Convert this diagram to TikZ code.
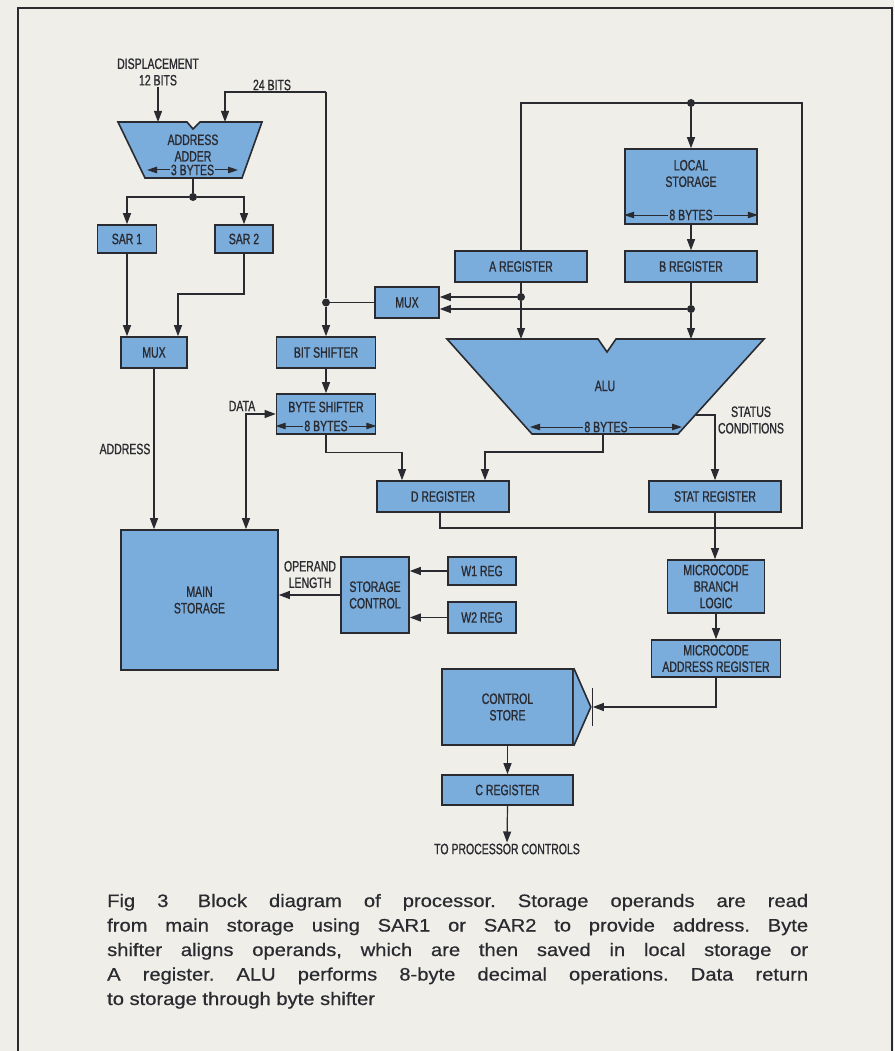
\documentclass[tikz,border=0pt]{standalone}
\usepackage{fontspec}
\setmainfont{Liberation Sans}
\newfontfamily\condfont[FakeStretch=0.7,FakeBold=1]{Liberation Sans}
\newfontfamily\capfont[FakeStretch=1.12,FakeBold=0.6]{Liberation Sans}
\usetikzlibrary{arrows.meta}

\definecolor{paper}{RGB}{240,238,232}
\definecolor{boxblue}{RGB}{122,172,220}
\definecolor{inkgrey}{RGB}{42,43,48}
\newcommand{\lblfont}{\condfont\fontsize{15}{16.5}\selectfont}
\newcommand{\capline}[1]{\makebox[701pt][s]{#1}}

\tikzset{
  blk/.style={draw=inkgrey, line width=1.6pt, fill=boxblue, text=inkgrey,
    font=\lblfont, align=center, inner sep=0pt},
  wire/.style={draw=inkgrey, line width=1.2pt},
  flow/.style={wire, -{Triangle[length=11pt,width=8pt]}},
  flowboth/.style={wire, {Triangle[length=11pt,width=8pt]}-{Triangle[length=11pt,width=8pt]}},
  span/.style={draw=inkgrey, line width=1pt,
    {Triangle[length=10pt,width=6.5pt]}-{Triangle[length=10pt,width=6.5pt]}},
  junc/.style={circle, fill=inkgrey, inner sep=0pt, minimum size=8pt},
  txt/.style={font=\lblfont, text=inkgrey, align=center, inner sep=1pt},
}

\begin{document}
\frenchspacing
\begin{tikzpicture}[x=1pt,y=-1pt,line join=miter]
    \useasboundingbox (0,0) rectangle (894,1051);
    \fill[paper] (0,0) rectangle (894,1051);
    \draw[inkgrey,line width=2.5pt] (18,1051) -- (18,8) -- (892,8) -- (892,1051);

    % address path
    \draw[fill=boxblue,draw=inkgrey,line width=1.6pt]
        (118,122) -- (187,122) -- (193,129) -- (200,122) -- (262,122)
        -- (242,178) -- (145,178) -- cycle;
    \coordinate (addin1) at (158,122);
    \coordinate (addin2) at (225,122);
    \coordinate (addout) at (193,178);
    \node[txt] (addtxt) at (193,148) {ADDRESS\\ADDER};
    \draw[span] (147,170) -- node[fill=boxblue,txt] (addspan) {3 BYTES} (238,170);
    \node[txt] (disp) at (158,72) {DISPLACEMENT\\12 BITS};
    \node[txt] (bits24) at (272,85) {24 BITS};
    \draw[flow] (disp.south) -- (addin1);

    \node[blk,minimum width=59pt,minimum height=28pt] (sar1) at (127,239) {SAR 1};
    \node[blk,minimum width=58pt,minimum height=28pt] (sar2) at (244,239) {SAR 2};
    \node[junc] (addsplit) at (193,197) {};
    \draw[wire] (addout) -- (addsplit);
    \draw[flow] (addsplit) -| (sar1.north);
    \draw[flow] (addsplit) -| (sar2.north);

    \node[blk,minimum width=66pt,minimum height=31pt] (mux1) at (154,352.5) {MUX};
    \coordinate (sar2bend) at (178,294);
    \draw[flow] (sar1.south) -- (sar1.south |- mux1.north);
    \draw[flow] (sar2.south) |- (sar2bend) -- (sar2bend |- mux1.north);

    \node[blk,minimum width=157pt,minimum height=140pt] (mainst) at (199.5,600) {MAIN\\STORAGE};
    \draw[flow] (mux1.south) -- (mux1.south |- mainst.north);
    \node[txt] (addrlbl) at (125,449) {ADDRESS};

    % shifters and mux
    \node[blk,minimum width=64pt,minimum height=31pt] (mux2) at (407,302.5) {MUX};
    \node[blk,minimum width=99pt,minimum height=31pt] (bitsh) at (326,352.5) {BIT SHIFTER};
    \node[blk,minimum width=99pt,minimum height=40pt] (bytesh) at (326,414) {};
    \node[txt] (bytetxt) at ([yshift=7pt]bytesh.center) {BYTE SHIFTER};
    \draw[span] ([yshift=-12pt]bytesh.west) -- node[fill=boxblue,txt] (bytespan) {8 BYTES}
        ([yshift=-12pt]bytesh.east);
    \node[junc] (bitsjunc) at (bitsh.north |- mux2.west) {};
    \coordinate (bitscorner) at (bitsh.north |- 0,92);
    \draw[wire] (mux2.west) -- (bitsjunc);
    \draw[flow] (bitscorner) -| (addin2);
    \draw[wire] (bitscorner) -- (bitsjunc);
    \draw[flow] (bitsjunc) -- (bitsh.north);
    \draw[flow] (bitsh.south) -- (bytesh.north);
    \draw[flowboth] (bytesh.west) -| ([xshift=46.5pt]mainst.north);
    \node[txt] (datalbl) at (242,406) {DATA};

    % registers and ALU
    \node[blk,minimum width=132pt,minimum height=75pt] (lstor) at (691,186.5) {};
    \node[txt] (lstortxt) at ([yshift=13pt]lstor.center) {LOCAL\\STORAGE};
    \draw[span] ([yshift=-28.5pt]lstor.west) -- node[fill=boxblue,txt] (lstorspan) {8 BYTES}
        ([yshift=-28.5pt]lstor.east);
    \node[blk,minimum width=132pt,minimum height=31pt] (areg) at (521,266.5) {A REGISTER};
    \node[blk,minimum width=132pt,minimum height=31pt] (breg) at (691,266.5) {B REGISTER};

    \draw[fill=boxblue,draw=inkgrey,line width=1.6pt]
        (447,339) -- (598,339) -- (607,352) -- (616,339) -- (764,339)
        -- (678,434) -- (532,434) -- cycle;
    \node[txt] (alutxt) at (605,386) {ALU};
    \draw[span] (530,427) -- node[fill=boxblue,txt] (aluspan) {8 BYTES} (682,427);
    \coordinate (aluout) at (603,434);
    \coordinate (alustat) at (696,415);

    \coordinate (ain) at ([yshift=5.5pt]mux2.east);
    \coordinate (bin) at ([yshift=-6.5pt]mux2.east);
    \node[junc] (ajunc) at (areg.south |- ain) {};
    \node[junc] (bjunc) at (breg.south |- bin) {};
    \draw[wire] (areg.south) -- (ajunc);
    \draw[wire] (breg.south) -- (bjunc);
    \draw[flow] (ajunc) -- (ain);
    \draw[flow] (bjunc) -- (bin);
    \draw[flow] (ajunc) -- (areg.south |- 0,339);
    \draw[flow] (bjunc) -- (breg.south |- 0,339);

    \node[blk,minimum width=132pt,minimum height=31pt] (dreg) at (443,496.5) {D REGISTER};
    \node[blk,minimum width=132pt,minimum height=31pt] (statreg) at (715,496.5) {STAT REGISTER};
    \draw[flow] (bytesh.south) -- ++(0,18) -| ([xshift=-41pt]dreg.north);
    \draw[flow] (aluout) -- ++(0,18) -| ([xshift=42pt]dreg.north);
    \draw[flow] (alustat) -| (statreg.north);
    \node[txt] (statlbl) at (751,420) {STATUS\\CONDITIONS};

    % return bus
    \coordinate (bustop) at (lstor.north |- 0,103);
    \coordinate (busright) at (802,528);
    \draw[wire] ([xshift=-3pt]dreg.south) |- (busright) |- (bustop) -| (areg.north);
    \node[junc] (busdot) at (bustop) {};
    \draw[flow] (busdot) -- (lstor.north);
    \draw[flow] (lstor.south) -- (breg.north);

    % storage control
    \node[blk,minimum width=68pt,minimum height=76pt] (stctl) at (375,595) {STORAGE\\CONTROL};
    \node[blk,minimum width=68pt,minimum height=28pt] (w1) at (482,571) {W1 REG};
    \node[blk,minimum width=68pt,minimum height=31pt] (w2) at (482,617.5) {W2 REG};
    \draw[flow] (stctl.west) -- (stctl.west -| mainst.east);
    \draw[flow] (w1.west) -- (w1.west -| stctl.east);
    \draw[flow] (w2.west) -- (w2.west -| stctl.east);
    \node[txt] (oplbl) at (310,574.5) {OPERAND\\LENGTH};

    % microcode
    \node[blk,minimum width=97pt,minimum height=53pt] (mbl) at (716,586.5) {MICROCODE\\BRANCH\\LOGIC};
    \node[blk,minimum width=129pt,minimum height=37pt] (mar) at (716,658.5) {MICROCODE\\ADDRESS REGISTER};
    \draw[flow] (statreg.south) -- (statreg.south |- mbl.north);
    \draw[flow] (mbl.south) -- (mar.north);

    \node[blk,minimum width=131pt,minimum height=76pt] (cstore) at (507.5,707) {CONTROL\\STORE};
    \filldraw[fill=boxblue,draw=inkgrey,line width=1.6pt]
        (cstore.north east) -- ([xshift=17pt]cstore.east) -- (cstore.south east);
    \coordinate (clk) at ([xshift=19pt]cstore.east);
    \draw[wire] ([yshift=19pt]clk) -- ([yshift=-19pt]clk);
    \draw[flow] (mar.south) |- (clk);

    \node[blk,minimum width=131pt,minimum height=30pt] (creg) at (507.5,790) {C REGISTER};
    \draw[flow] (cstore.south) -- (creg.north);
    \node[txt] (outlbl) at (507,849) {TO PROCESSOR CONTROLS};
    \draw[flow] (creg.south) -- (outlbl.north);

    % caption
    \node[anchor=base west,align=left,inner sep=0pt,text=inkgrey,
          font=\capfont\fontsize{18}{24.5}\selectfont] (caption) at (107,1005)
        {\capline{Fig 3\hspace{0.4em} Block diagram of processor. Storage operands are read}\\
         \capline{from main storage using SAR1 or SAR2 to provide address. Byte}\\
         \capline{shifter aligns operands, which are then saved in local storage or}\\
         \capline{A register. ALU performs 8-byte decimal operations. Data return}\\
         to storage through byte shifter};
\end{tikzpicture}
\end{document}
